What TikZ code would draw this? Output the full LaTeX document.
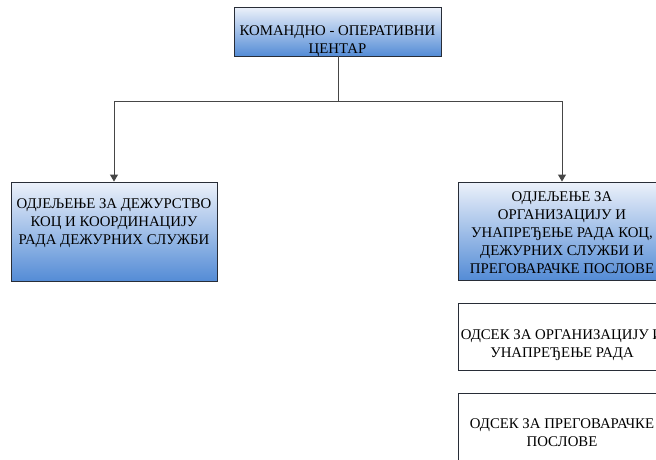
\documentclass[tikz,border=0pt]{standalone}
\usepackage{fontspec}
\setmainfont{Liberation Serif}
\usetikzlibrary{arrows.meta}
\definecolor{gtop}{RGB}{236,241,250}
\definecolor{gmid}{RGB}{170,195,232}
\definecolor{gbot}{RGB}{84,140,214}
\definecolor{edge}{RGB}{40,45,55}
\definecolor{wire}{RGB}{70,70,70}
\tikzset{
  x=1pt, y=-1pt,
  bluebox/.style={draw=edge, line width=0.9pt, top color=gtop, middle color=gmid, bottom color=gbot, minimum width=#1, inner sep=0pt},
  whitebox/.style={draw=edge, line width=0.9pt, fill=white, minimum width=#1, inner sep=0pt},
  txt/.style={align=center, font=\fontsize{14.8}{18}\selectfont, inner sep=0pt},
  wireline/.style={draw=wire, line width=1pt},
  arr/.style={wireline, -{Triangle[length=7pt,width=8pt]}}
}
\begin{document}
\begin{tikzpicture}
\useasboundingbox (0,0) rectangle (656,459);
\clip (0,0) rectangle (656,459);
% boxes
\node[bluebox=207pt, minimum height=49pt] (top) at (337.5,31.5) {};
\node[bluebox=206pt, minimum height=99pt] (left) at (114,231.5) {};
\node[bluebox=208pt, minimum height=98pt] (right) at (562,231) {};
\node[whitebox=208pt, minimum height=67pt] (sub1) at (562,336.5) {};
\node[whitebox=208pt, minimum height=67pt] (sub2) at (562,426.5) {};
% texts
\node[txt] (toptxt) at (337.5,41.5) {КОМАНДНО - ОПЕРАТИВНИ\\ЦЕНТАР};
\node[txt] (lefttxt) at (114,223.5) {ОДЈЕЉЕЊЕ ЗА ДЕЖУРСТВО\\КОЦ И КООРДИНАЦИЈУ\\РАДА ДЕЖУРНИХ СЛУЖБИ};
\node[txt] (righttxt) at (562,232.5) {ОДЈЕЉЕЊЕ ЗА\\ОРГАНИЗАЦИЈУ И\\УНАПРЕЂЕЊЕ РАДА КОЦ,\\ДЕЖУРНИХ СЛУЖБИ И\\ПРЕГОВАРАЧКЕ ПОСЛОВЕ};
\node[txt] (sub1txt) at (562,345) {ОДСЕК ЗА ОРГАНИЗАЦИЈУ И\\УНАПРЕЂЕЊЕ РАДА};
\node[txt] (sub2txt) at (562,432.5) {ОДСЕК ЗА ПРЕГОВАРАЧКЕ\\ПОСЛОВЕ};
% connectors
\coordinate (hub) at (338,101);
\draw[wireline] (top.south -| hub) -- (hub);
\draw[arr] (hub) -| (left.north);
\draw[arr] (hub) -| (right.north);
\end{tikzpicture}
\end{document}
